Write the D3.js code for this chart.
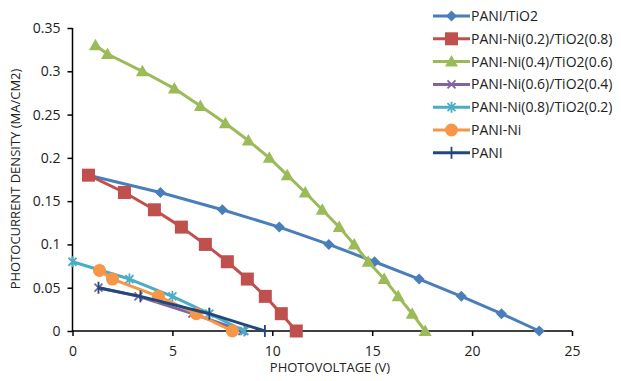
<!DOCTYPE html>
<html>
<head>
<meta charset="utf-8">
<script src="https://cdn.jsdelivr.net/npm/d3@7"></script>
<style>
  body { margin: 0; background: #fff; }
  svg { font-family: "Open Sans", "Liberation Sans", sans-serif; }
</style>
</head>
<body>
<script>
// Series
const seriesNames = ["PANI/TiO2", "PANI-Ni(0.2)/TiO2(0.8)", "PANI-Ni(0.4)/TiO2(0.6)",
  "PANI-Ni(0.6)/TiO2(0.4)", "PANI-Ni(0.8)/TiO2(0.2)", "PANI-Ni", "PANI"];

const paniTio2X = [0.8, 4.4, 7.5, 10.35, 12.83, 15.12, 17.35, 19.46, 21.47, 23.36];
const paniTio2Y = [0.18, 0.16, 0.14, 0.12, 0.10, 0.08, 0.06, 0.04, 0.02, 0];

const ni02X = [0.8, 2.6, 4.1, 5.45, 6.65, 7.75, 8.75, 9.65, 10.45, 11.2];
const ni02Y = [0.18, 0.16, 0.14, 0.12, 0.10, 0.08, 0.06, 0.04, 0.02, 0];

const ni04X = [1.15, 1.75, 3.5, 5.1, 6.4, 7.65, 8.8, 9.85, 10.75, 11.65, 12.5, 13.35, 14.1, 14.8, 15.6, 16.3, 17.0, 17.65];
const ni04Y = [0.33, 0.32, 0.30, 0.28, 0.26, 0.24, 0.22, 0.20, 0.18, 0.16, 0.14, 0.12, 0.10, 0.08, 0.06, 0.04, 0.02, 0];

const ni06X = [1.3, 3.3, 6.0, 8.5];
const ni06Y = [0.05, 0.04, 0.02, 0];

const ni08X = [0, 2.85, 5.0, 6.85, 8.6];
const ni08Y = [0.08, 0.06, 0.04, 0.02, 0];

const paniNiX = [1.35, 2.0, 4.3, 6.2, 8.0];
const paniNiY = [0.07, 0.06, 0.04, 0.02, 0];

const paniX = [1.3, 3.4, 6.85, 9.63];
const paniY = [0.05, 0.04, 0.02, 0];

const xTicks = [0, 5, 10, 15, 20, 25];
const yTicks = [0, 0.05, 0.1, 0.15, 0.2, 0.25, 0.3, 0.35];

const colors = ["#4a7ebb", "#c0504d", "#9bbb59", "#8064a2", "#4bacc6", "#f79646", "#1f497d"];
const markers = ["diamond", "square", "triangle", "x", "star", "circle", "plus"];

const allX = [paniTio2X, ni02X, ni04X, ni06X, ni08X, paniNiX, paniX];
const allY = [paniTio2Y, ni02Y, ni04Y, ni06Y, ni08Y, paniNiY, paniY];
const series = seriesNames.map((name, i) => ({
  name, color: colors[i], marker: markers[i],
  points: allX[i].map((x, j) => ({ x, y: allY[i][j] }))
}));

const width = 621, height = 381;
const svg = d3.select("body").append("svg")
  .attr("width", width).attr("height", height);

const x = d3.scaleLinear().domain([0, 25]).range([72.5, 572]);
const y = d3.scaleLinear().domain([0, 0.35]).range([331, 28]);

// draws a marker centred at 0,0
function drawMarker(g, type, color) {
  if (type === "diamond") {
    g.append("path").attr("d", "M0,-5.5L5.5,0L0,5.5L-5.5,0Z").attr("fill", color);
  } else if (type === "square") {
    g.append("rect").attr("x", -6.5).attr("y", -6.5).attr("width", 13).attr("height", 13).attr("fill", color);
  } else if (type === "triangle") {
    g.append("path").attr("d", "M0,-6.5L6.5,5L-6.5,5Z").attr("fill", color);
  } else if (type === "circle") {
    g.append("circle").attr("r", 6.5).attr("fill", color);
  } else if (type === "x") {
    g.append("path").attr("d", "M-4,-4L4,4M-4,4L4,-4").attr("stroke", color).attr("stroke-width", 1.8);
  } else if (type === "star") {
    g.append("path").attr("d", "M-4,-4L4,4M-4,4L4,-4M0,-5.5L0,5.5").attr("stroke", color).attr("stroke-width", 1.8);
  } else if (type === "plus") {
    g.append("path").attr("d", "M0,-6L0,6").attr("stroke", color).attr("stroke-width", 1.8);
  }
}

// axes
const yAxis = svg.append("g")
  .attr("transform", `translate(${x(0)},0)`)
  .call(d3.axisLeft(y).tickValues(yTicks).tickSize(5).tickFormat(d => d === 0 ? "0" : d3.format("")(+d.toFixed(2))));
const xAxis = svg.append("g")
  .attr("transform", `translate(0,${y(0)})`)
  .call(d3.axisBottom(x).tickValues(xTicks).tickSize(5).tickFormat(d3.format("d")));

[yAxis, xAxis].forEach(a => {
  a.select(".domain").attr("stroke", "#000").attr("stroke-width", 1.5);
  a.selectAll(".tick line").attr("stroke", "#000").attr("stroke-width", 1.5);
  a.selectAll(".tick text").attr("fill", "#222").attr("font-size", 14)
    .attr("font-family", "'Open Sans', 'Liberation Sans', sans-serif");
});
yAxis.selectAll(".tick text").attr("x", -12);
xAxis.selectAll(".tick text").attr("y", 15);
xAxis.select(".domain").attr("d", `M${x(0)},0H${x(25)}`);
yAxis.select(".domain").attr("d", `M0,${y(0)}V${y(0.35)}`);

// lines
const line = d3.line().x(d => x(d.x)).y(d => y(d.y));
const plot = svg.append("g");
series.forEach(s => {
  plot.append("path")
    .datum(s.points)
    .attr("fill", "none")
    .attr("stroke", s.color)
    .attr("stroke-width", 3)
    .attr("stroke-linejoin", "round")
    .attr("d", line);
  s.points.forEach(p => {
    const g = plot.append("g").attr("transform", `translate(${x(p.x)},${y(p.y)})`);
    drawMarker(g, s.marker, s.color);
  });
});

// axis titles
svg.append("text")
  .attr("x", 330).attr("y", 372)
  .attr("text-anchor", "middle")
  .attr("font-size", 13).attr("fill", "#222")
  .text("PHOTOVOLTAGE (V)");
svg.append("text")
  .attr("transform", "translate(20,179) rotate(-90)")
  .attr("text-anchor", "middle")
  .attr("font-size", 13).attr("fill", "#222")
  .text("PHOTOCURRENT DENSITY (MA/CM2)");

// legend
const legend = svg.append("g").attr("transform", "translate(433,16)");
series.forEach((s, i) => {
  const row = legend.append("g").attr("transform", `translate(0,${i * 22.8})`);
  row.append("line").attr("x1", 0).attr("x2", 37)
    .attr("stroke", s.color).attr("stroke-width", 3);
  const m = row.append("g").attr("transform", "translate(18.5,0)");
  drawMarker(m, s.marker, s.color);
  row.append("text").attr("x", 38).attr("dy", "0.35em")
    .attr("font-size", 14).attr("fill", "#222")
    .text(s.name);
});
</script>
</body>
</html>
